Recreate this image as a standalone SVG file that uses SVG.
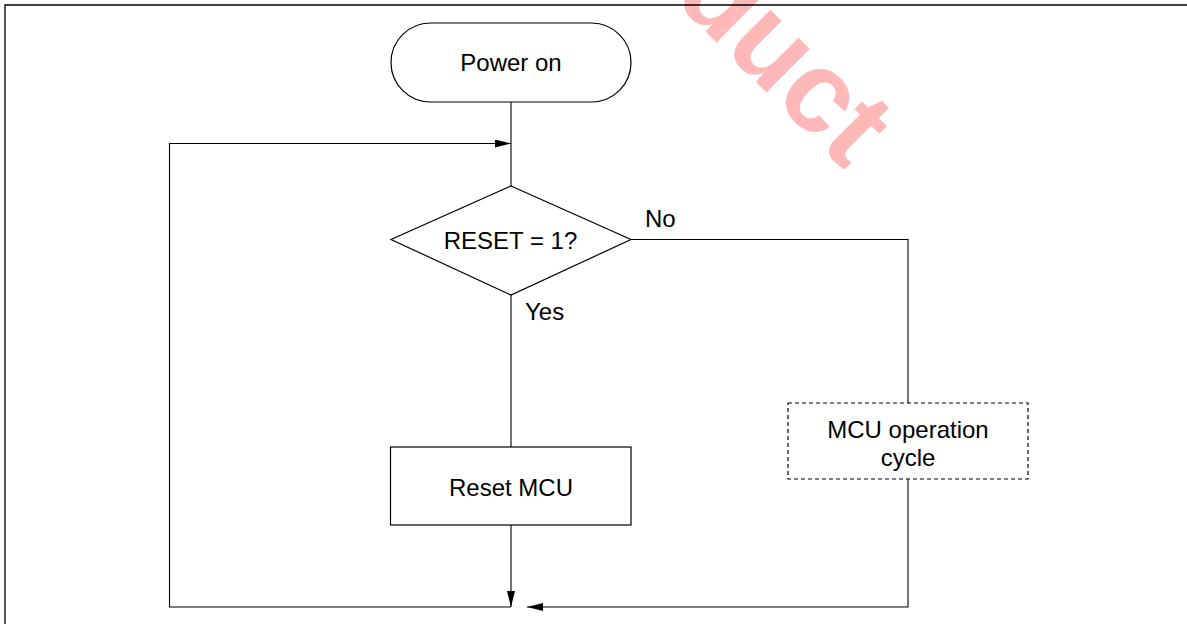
<svg xmlns="http://www.w3.org/2000/svg" width="1187" height="624" viewBox="0 0 1187 624">
  <defs>
    <style>
      .shape { fill: #ffffff; stroke: #000000; stroke-width: 1.2; }
      .dashed { fill: #ffffff; stroke: #000000; stroke-width: 1.2; stroke-dasharray: 4 3; }
      .conn { fill: none; stroke: #000000; stroke-width: 1.1; }
      .lbl { font-family: "Liberation Sans", Arial, sans-serif; font-size: 24px; fill: #000000; }
      .mid { text-anchor: middle; }
      .wm { font-family: "Liberation Sans", Arial, sans-serif; font-size: 116px; font-weight: bold; fill: #ff0000; fill-opacity: 0.28; }
    </style>
    <marker id="arrow" viewBox="0 0 16 8" refX="16" refY="4" markerWidth="16" markerHeight="8" markerUnits="userSpaceOnUse" orient="auto">
      <path d="M0,0 L16,4 L0,8 Z" fill="#000000"/>
    </marker>
  </defs>
  <rect x="0" y="0" width="1187" height="624" fill="#ffffff"/>

  <text class="wm" transform="translate(672,-2) rotate(45)" x="0" y="0">duct</text>

  <path d="M5,624 V5 H1187" fill="none" stroke="#000000" stroke-width="1.3"/>

  <g id="connectors">
    <path class="conn" d="M511,102 V186"/>
    <path class="conn" d="M511,295 V447"/>
    <path class="conn" d="M631,239.5 H908 V403"/>
    <path class="conn" d="M908,479 V607 H527" marker-end="url(#arrow)"/>
    <path class="conn" d="M511,525 V607" marker-end="url(#arrow)"/>
    <path class="conn" d="M511,607 H169.5 V143.5 H511" marker-end="url(#arrow)"/>
  </g>

  <g id="power-on">
    <rect class="shape" x="391" y="23" width="240" height="79" rx="39.5" ry="39.5"/>
    <text class="lbl mid" x="511" y="71">Power on</text>
  </g>

  <g id="reset-decision">
    <polygon class="shape" points="511,186 631,239.5 511,295 391,239.5"/>
    <text class="lbl mid" x="510.5" y="249">RESET = 1?</text>
    <text class="lbl" x="525" y="320">Yes</text>
    <text class="lbl" x="645" y="227">No</text>
  </g>

  <g id="reset-mcu">
    <rect class="shape" x="390.5" y="447" width="240.5" height="78"/>
    <text class="lbl mid" x="511" y="495.5">Reset MCU</text>
  </g>

  <g id="mcu-operation-cycle">
    <rect class="dashed" x="788" y="403" width="240" height="76"/>
    <text class="lbl mid" x="908" y="437.5">MCU operation</text>
    <text class="lbl mid" x="908" y="465.5">cycle</text>
  </g>
</svg>
